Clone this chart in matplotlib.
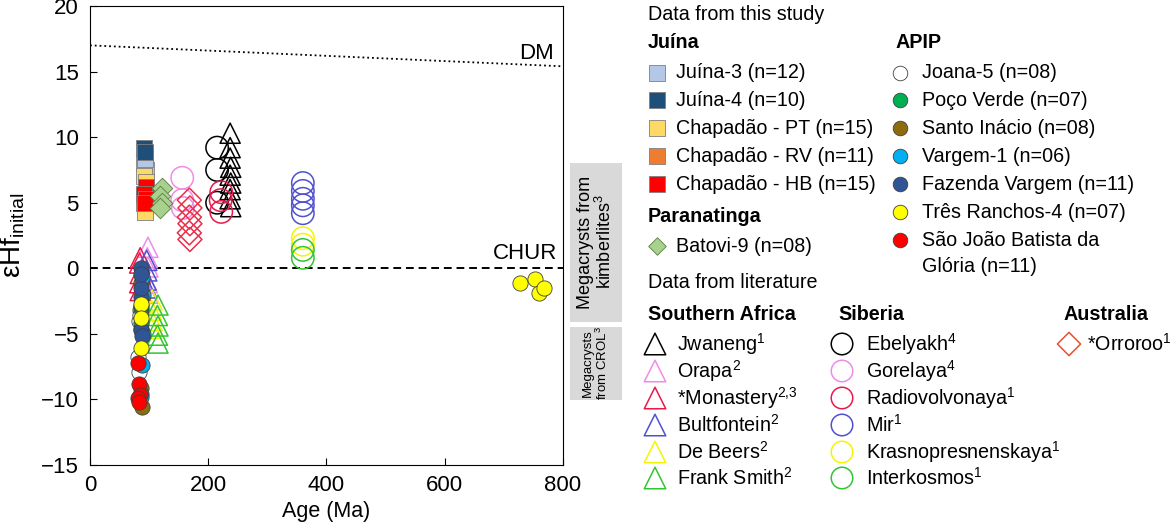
import numpy as np
import matplotlib.pyplot as plt
from matplotlib.patches import Rectangle

plt.rcParams['font.family'] = ['Liberation Sans', 'DejaVu Sans']
plt.rcParams['mathtext.fontset'] = 'custom'
plt.rcParams['mathtext.rm'] = 'Liberation Sans'
plt.rcParams['mathtext.it'] = 'Liberation Sans:italic'
plt.rcParams['mathtext.bf'] = 'Liberation Sans:bold'

# ---- data from this study (age Ma, eHf) ----
juina3_age = [93, 93, 94, 92, 93]
juina3_eps = [8.5, 7.8, 7.5, 8.0, 8.3]
juina4_age = [92, 93]
juina4_eps = [9.2, 8.9]
chap_pt_age = [92, 93, 94]
chap_pt_eps = [7.0, 4.3, 6.6]
chap_rv_age = [91, 92]
chap_rv_eps = [5.0, 5.6]
chap_hb_age = [94, 92, 95, 93]
chap_hb_eps = [6.2, 5.7, 5.3, 5.0]
batovi_age = [122, 119, 121, 118]
batovi_eps = [6.1, 5.5, 5.0, 4.6]

joana_age = [84, 83, 82, 83, 85]
joana_eps = [-3.2, -4.0, -6.8, -7.9, -3.6]
poco_age = [86, 87, 86, 87]
poco_eps = [-3.1, -4.6, -2.9, -4.2]
santo_age = [87, 86, 88, 87]
santo_eps = [-1.1, -9.1, -10.6, -9.6]
vargem_age = [88, 89, 88, 87, 89]
vargem_eps = [-0.7, -5.0, -7.4, -9.8, -2.0]
fazenda_age = [86, 87, 86, 88, 87, 86]
fazenda_eps = [0.0, -2.2, -4.7, -5.2, -1.5, -0.4]
tres_age = [87, 86, 87, 728, 752, 760, 768]
tres_eps = [-2.7, -3.8, -6.1, -1.1, -0.8, -1.9, -1.5]
sjbg_age = [82, 83, 84, 82, 83]
sjbg_eps = [-7.2, -8.8, -9.7, -9.9, -10.2]

# ---- data from literature ----
jwaneng_age = [237, 237, 237, 238, 237, 238, 237, 237, 238]
jwaneng_eps = [10.3, 9.2, 8.4, 7.7, 7.1, 6.5, 6.0, 5.3, 4.7]
orapa_age = [98, 97, 98, 97, 98]
orapa_eps = [1.6, 0.8, 0.1, -1.1, -1.9]
monastery_age = [85, 84, 85, 84, 85]
monastery_eps = [0.8, 0.4, -0.4, -1.1, -1.7]
bultf_age = [96, 96, 95, 96]
bultf_eps = [0.6, -0.2, -0.9, -1.5]
debeers_age = [105, 104, 105, 104]
debeers_eps = [-2.4, -3.2, -4.0, -4.6]
franks_age = [115, 114, 115, 114, 115]
franks_eps = [-2.8, -3.6, -4.4, -5.1, -5.7]

ebelyakh_age = [215, 215, 215]
ebelyakh_eps = [9.2, 7.5, 5.0]
gorelaya_age = [156, 156, 157]
gorelaya_eps = [6.9, 5.2, 4.6]
radio_age = [222, 221, 222]
radio_eps = [5.8, 5.2, 4.3]
mir_age = [360, 360, 360, 360, 360]
mir_eps = [6.5, 5.9, 5.3, 4.8, 4.2]
krasno_age = [360, 360]
krasno_eps = [2.3, 1.8]
interk_age = [360, 360]
interk_eps = [1.4, 0.8]
orroroo_age = [168, 169, 168, 169, 168, 169]
orroroo_eps = [5.2, 4.6, 3.9, 3.4, 2.7, 2.2]

dm_age = [0, 800]
dm_eps = [17.0, 15.4]

fig = plt.figure(figsize=(11.76, 5.23), dpi=100)
ax = fig.add_axes([90 / 1176, 58 / 523, 473 / 1176, 459 / 523])

sq = dict(marker='s', s=130, linewidths=0.6, edgecolors='#7f7f7f', zorder=3)
ci = dict(marker='o', s=120, linewidths=0.6, edgecolors='#404040', zorder=3)
tri = dict(marker='^', s=210, facecolors='none', linewidths=1.1, zorder=2)
oc = dict(marker='o', s=260, facecolors='none', linewidths=1.1, zorder=2)

# literature first (behind)
ax.scatter(jwaneng_age, jwaneng_eps, edgecolors='black', **tri)
ax.scatter(orapa_age, orapa_eps, edgecolors='#f08ce8', **tri)
ax.scatter(monastery_age, monastery_eps, edgecolors='#e8194b', **tri)
ax.scatter(bultf_age, bultf_eps, edgecolors='#5050d0', **tri)
ax.scatter(debeers_age, debeers_eps, edgecolors='#f5f500', **tri)
ax.scatter(franks_age, franks_eps, edgecolors='#33c433', **tri)
ax.scatter(ebelyakh_age, ebelyakh_eps, edgecolors='black', **oc)
ax.scatter(gorelaya_age, gorelaya_eps, edgecolors='#f08ce8', **oc)
ax.scatter(radio_age, radio_eps, edgecolors='#e8194b', **oc)
ax.scatter(mir_age, mir_eps, edgecolors='#5050d0', **oc)
ax.scatter(krasno_age, krasno_eps, edgecolors='#f5f500', **oc)
ax.scatter(interk_age, interk_eps, edgecolors='#33c433', **oc)
ax.scatter(orroroo_age, orroroo_eps, marker='D', s=150, facecolors='none',
           edgecolors='#e8304a', linewidths=1.1, zorder=2)

# this study
ax.scatter(chap_rv_age, chap_rv_eps, c='#ed7d31', **sq)
ax.scatter(juina3_age, juina3_eps, c='#b4c7e7', **sq)
ax.scatter(juina4_age, juina4_eps, c='#1f4e79', **sq)
ax.scatter(chap_pt_age, chap_pt_eps, c='#ffd966', **sq)
ax.scatter(chap_hb_age, chap_hb_eps, c='#ff0000', **sq)
ax.scatter(batovi_age, batovi_eps, marker='D', s=110, c='#a9d18e',
           edgecolors='#5a7a40', linewidths=0.6, zorder=3)
ax.scatter(joana_age, joana_eps, c='white', **ci)
ax.scatter(poco_age, poco_eps, c='#00b050', **ci)
ax.scatter(santo_age, santo_eps, c='#8c6c0c', **ci)
ax.scatter(vargem_age, vargem_eps, c='#00b0f0', **ci)
ax.scatter(fazenda_age, fazenda_eps, c='#2f5597', **ci)
ax.scatter(tres_age, tres_eps, c='#ffff00', **ci)
ax.scatter(sjbg_age, sjbg_eps, c='#ff0000', **ci)

ax.plot(dm_age, dm_eps, ls=':', color='black', lw=1.3, zorder=1)
ax.axhline(0, ls='--', color='black', lw=1.4, dashes=(4, 2.5), zorder=1)
ax.text(755, 16.4, 'DM', fontsize=16, ha='center', va='center')
ax.text(735, 0.35, 'CHUR', fontsize=16, ha='center', va='bottom')

ax.set_xlim(0, 800)
ax.set_ylim(-15, 20)
ax.set_xticks([0, 200, 400, 600, 800])
ax.set_yticks(np.arange(-15, 21, 5))
ax.tick_params(direction='in', labelsize=16, length=5)
ax.tick_params(axis='y', pad=8)
ax.tick_params(axis='x', pad=7)
ax.set_xlabel('Age (Ma)', fontsize=15.5, labelpad=4)
ax.set_ylabel(r'εHf$_{\mathrm{initial}}$', fontsize=20, labelpad=10)

# ---- legend / side panel in pixel coordinates ----
lg = fig.add_axes([0, 0, 1, 1], zorder=-1)
lg.set_xlim(0, 1176)
lg.set_ylim(523, 0)
lg.axis('off')
fs = 14.2

lg.add_patch(Rectangle((570, 163), 52, 159, color='#d9d9d9', lw=0))
lg.add_patch(Rectangle((570, 327), 52, 73, color='#d9d9d9', lw=0))
lg.text(596, 242, 'Megacrysts from\nkimberlites$^{\\mathrm{3}}$', rotation=90,
        ha='center', va='center', fontsize=13, linespacing=1.05)
lg.text(596, 363, 'Megacrysts\nfrom CROL$^{\\mathrm{3}}$', rotation=90,
        ha='center', va='center', fontsize=9.5, linespacing=1.05)

lg.text(648, 15, 'Data from this study', fontsize=fs, va='center')
lg.text(648, 43, 'Juína', fontsize=fs, va='center', weight='bold')
lg.text(648, 217, 'Paranatinga', fontsize=fs, va='center', weight='bold')
lg.text(896, 43, 'APIP', fontsize=fs, va='center', weight='bold')
lg.text(648, 283, 'Data from literature', fontsize=fs, va='center')
lg.text(648, 315, 'Southern Africa', fontsize=fs, va='center', weight='bold')
lg.text(838, 315, 'Siberia', fontsize=fs, va='center', weight='bold')
lg.text(1063, 315, 'Australia', fontsize=fs, va='center', weight='bold')

rows1 = [73, 100, 128, 156, 184]
names1 = ['Juína-3 (n=12)', 'Juína-4 (n=10)', 'Chapadão - PT (n=15)',
          'Chapadão - RV (n=11)', 'Chapadão - HB (n=15)']
cols1 = ['#b4c7e7', '#1f4e79', '#ffd966', '#ed7d31', '#ff0000']
for y, n, c in zip(rows1, names1, cols1):
    lg.scatter(657, y, marker='s', s=130, c=c, edgecolors='#7f7f7f', linewidths=0.6)
    lg.text(676, y, n, fontsize=fs, va='center')
lg.scatter(657, 246, marker='D', s=80, c='#a9d18e', edgecolors='#5a7a40', linewidths=0.6)
lg.text(676, 246, 'Batovi-9 (n=08)', fontsize=fs, va='center')

rows2 = [73, 100, 128, 156, 184, 212, 240]
names2 = ['Joana-5 (n=08)', 'Poço Verde (n=07)', 'Santo Inácio (n=08)',
          'Vargem-1 (n=06)', 'Fazenda Vargem (n=11)', 'Três Ranchos-4 (n=07)',
          'São João Batista da']
cols2 = ['white', '#00b050', '#8c6c0c', '#00b0f0', '#2f5597', '#ffff00', '#ff0000']
for y, n, c in zip(rows2, names2, cols2):
    lg.scatter(900, y, marker='o', s=110, c=c, edgecolors='#404040', linewidths=0.6)
    lg.text(922, y, n, fontsize=fs, va='center')
lg.text(922, 266, 'Glória (n=11)', fontsize=fs, va='center')

rows3 = [344, 371, 398, 425, 452, 478]
names3 = ['Jwaneng$^{\\mathrm{1}}$', 'Orapa$^{\\mathrm{2}}$', '*Monastery$^{\\mathrm{2{,}3}}$',
          'Bultfontein$^{\\mathrm{2}}$', 'De Beers$^{\\mathrm{2}}$', 'Frank Smith$^{\\mathrm{2}}$']
cols3 = ['black', '#f08ce8', '#e8194b', '#5050d0', '#f5f500', '#33c433']
for y, n, c in zip(rows3, names3, cols3):
    lg.scatter(655, y, marker='^', s=240, facecolors='none', edgecolors=c, linewidths=1.1)
    lg.text(677, y, n, fontsize=fs, va='center')

names4 = ['Ebelyakh$^{\\mathrm{4}}$', 'Gorelaya$^{\\mathrm{4}}$', 'Radiovolvonaya$^{\\mathrm{1}}$',
          'Mir$^{\\mathrm{1}}$', 'Krasnopresnenskaya$^{\\mathrm{1}}$', 'Interkosmos$^{\\mathrm{1}}$']
for y, n, c in zip(rows3, names4, cols3):
    lg.scatter(842, y, marker='o', s=240, facecolors='none', edgecolors=c, linewidths=1.1)
    lg.text(866, y, n, fontsize=fs, va='center')

lg.scatter(1069, 344, marker='D', s=140, facecolors='none', edgecolors='#e8502e', linewidths=1.1)
lg.text(1087, 344, '*Orroroo$^{\\mathrm{1}}$', fontsize=fs, va='center')

fig.savefig('out.png', dpi=100)
